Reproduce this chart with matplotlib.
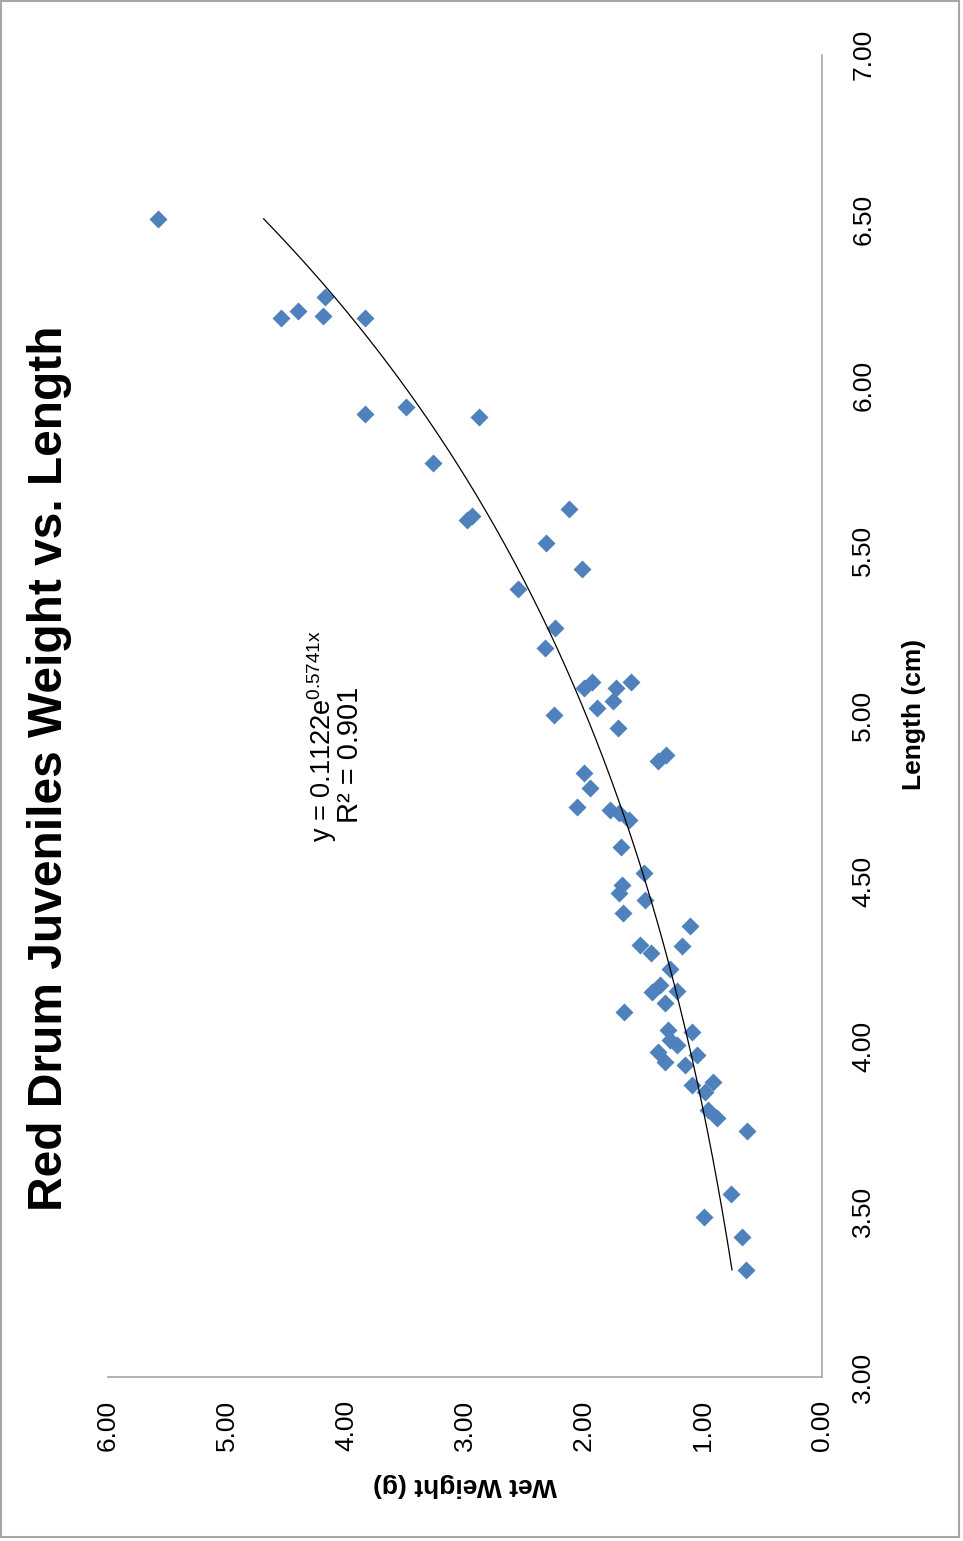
import numpy as np
import matplotlib
matplotlib.use("Agg")
import matplotlib.pyplot as plt
from matplotlib.patches import Rectangle

plt.rcParams["font.family"] = ["Liberation Sans", "DejaVu Sans"]
plt.rcParams["mathtext.fontset"] = "custom"
plt.rcParams["mathtext.rm"] = "Liberation Sans"
plt.rcParams["mathtext.it"] = "Liberation Sans:italic"
plt.rcParams["mathtext.bf"] = "Liberation Sans:bold"

# data (length in cm, wet weight in g)
length_cm = [6.503, 6.204, 6.224, 6.266, 6.210, 6.204, 5.913, 5.935, 5.903, 5.765,
             5.592, 5.604, 5.625, 5.524, 5.443, 5.384, 5.265, 5.204, 5.083, 5.103,
             5.083, 5.103, 5.046, 5.023, 5.002, 4.964, 4.864, 4.881, 4.826, 4.781,
             4.725, 4.715, 4.705, 4.685, 4.604, 4.524, 4.488, 4.463, 4.443, 4.404,
             4.363, 4.307, 4.304, 4.282, 4.233, 4.186, 4.165, 4.168, 4.132, 4.105,
             4.050, 4.044, 4.019, 4.004, 3.984, 3.954, 3.944, 3.974, 3.883, 3.893,
             3.863, 3.808, 3.783, 3.744, 3.553, 3.485, 3.424, 3.324]
weight_g = [5.578, 4.543, 4.402, 4.173, 4.192, 3.843, 3.843, 3.495, 2.886, 3.266,
            2.983, 2.941, 2.124, 2.317, 2.015, 2.555, 2.242, 2.326, 1.998, 1.934,
            1.730, 1.606, 1.757, 1.887, 2.256, 1.715, 1.374, 1.310, 1.996, 1.948,
            2.060, 1.780, 1.710, 1.626, 1.688, 1.500, 1.682, 1.702, 1.486, 1.673,
            1.108, 1.528, 1.178, 1.438, 1.276, 1.360, 1.430, 1.220, 1.318, 1.668,
            1.291, 1.094, 1.276, 1.220, 1.374, 1.318, 1.150, 1.052, 1.094, 0.913,
            0.982, 0.955, 0.884, 0.627, 0.764, 0.988, 0.674, 0.638]

# exponential trendline shown on the chart
fit_a = 0.1122
fit_b = 0.5741

length_ticks = [3.0, 3.5, 4.0, 4.5, 5.0, 5.5, 6.0, 6.5, 7.0]
weight_ticks = [0.0, 1.0, 2.0, 3.0, 4.0, 5.0, 6.0]

W, H = 963, 1541
fig = plt.figure(figsize=(W / 100, H / 100), dpi=100)

# chart is drawn turned a quarter turn: length runs up, weight runs leftwards
ax = fig.add_axes([108 / W, 1 - 1377 / H, (822 - 108) / W, (1377 - 54.5) / H])

ax.plot(weight_g, length_cm, "D", ms=9.6, color="#4F81BD", mec="none")

xs = np.linspace(min(length_cm), max(length_cm), 300)
ax.plot(fit_a * np.exp(fit_b * xs), xs, color="black", lw=0.9)

ax.set_xlim(6, 0)
ax.set_ylim(3, 7)

for side in ["top", "left"]:
    ax.spines[side].set_visible(False)
for side in ["right", "bottom"]:
    ax.spines[side].set_color("#A6A6A6")
    ax.spines[side].set_linewidth(1.2)

ax.yaxis.tick_right()
ax.set_yticks(length_ticks)
ax.set_yticklabels([f"{v:.2f}" for v in length_ticks], rotation=90, va="center")
ax.tick_params(axis="y", length=0, pad=21, labelsize=19)

ax.set_xticks(weight_ticks)
ax.set_xticklabels([f"{v:.2f}" for v in weight_ticks], rotation=90, ha="center", va="top")
ax.tick_params(axis="x", length=0, pad=16.5, labelsize=19)

fig.text(50 / W, 1 - 768 / H, "Red Drum Juveniles Weight vs. Length", rotation=90,
         fontsize=34.5, fontweight="bold", ha="center", va="center")
fig.text(914 / W, 1 - 714 / H, "Length (cm)", rotation=90, fontsize=19,
         fontweight="bold", ha="center", va="center")
fig.text(465 / W, 1 - 1485 / H, "Wet Weight (g)", rotation=180, fontsize=19,
         fontweight="bold", ha="center", va="center")

fig.text(322 / W, 1 - 842 / H, r"y = 0.1122e$^{\mathrm{0.5741x}}$", rotation=90,
         fontsize=19.5, ha="center", va="bottom")
fig.text(350 / W, 1 - 755 / H, "R² = 0.901", rotation=90, fontsize=21,
         ha="center", va="center")

fig.patches.append(Rectangle((1 / W, 1 - 1537 / H), 958 / W, 1536 / H,
                             transform=fig.transFigure, fill=False,
                             edgecolor="#A6A6A6", lw=1.5))

fig.savefig("out.png", dpi=100)
